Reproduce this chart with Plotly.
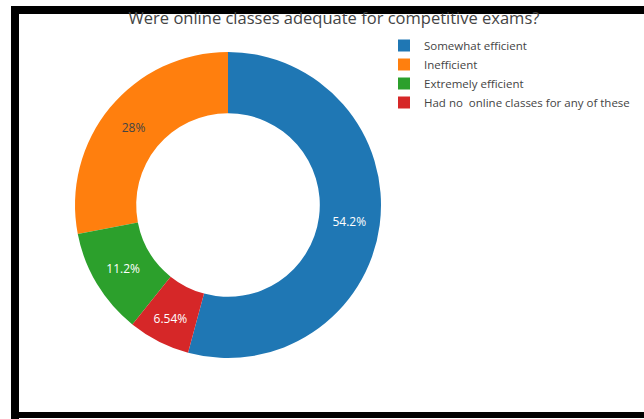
import plotly.graph_objects as go

# Survey responses: were online classes adequate for competitive exams?
labels = [
    "Somewhat efficient",
    "Inefficient",
    "Extremely efficient",
    "Had no  online classes for any of these",
]
counts = [58, 30, 12, 7]
colors = ["#1f77b4", "#ff7f0e", "#2ca02c", "#d62728"]

W, H = 644, 419

fig = go.Figure(
    go.Pie(
        labels=labels,
        values=counts,
        hole=0.6,
        marker=dict(colors=colors),
        textinfo="percent",
        insidetextorientation="horizontal",
        textfont=dict(size=12),
        domain=dict(x=[75 / W, 381 / W], y=[1 - 358 / H, 1 - 52 / H]),
    )
)

# Dark frame around the white canvas (left, top and bottom edges)
frame = [
    (11, 6, W, 14),
    (11, 6, 19, H),
    (11, 412, W, 418),
]
shapes = [
    dict(
        type="rect", xref="paper", yref="paper",
        x0=x0 / W, x1=x1 / W, y0=1 - y1 / H, y1=1 - y0 / H,
        fillcolor="black", line=dict(width=0), layer="above",
    )
    for x0, y0, x1, y1 in frame
]

fig.update_layout(
    width=W,
    height=H,
    margin=dict(l=0, r=0, t=0, b=0),
    paper_bgcolor="white",
    plot_bgcolor="white",
    font=dict(family="Open Sans, sans-serif", color="#444"),
    title=dict(
        text="Were online classes adequate for competitive exams?",
        x=334 / W, xanchor="center",
        y=1 - 18 / H, yanchor="middle",
        font=dict(size=16.5, color="#444"),
    ),
    legend=dict(
        x=384 / W, xanchor="left",
        y=1 - 31 / H, yanchor="top",
        font=dict(size=11.5, color="#444"),
    ),
    shapes=shapes,
)

fig.write_html("out.html")
